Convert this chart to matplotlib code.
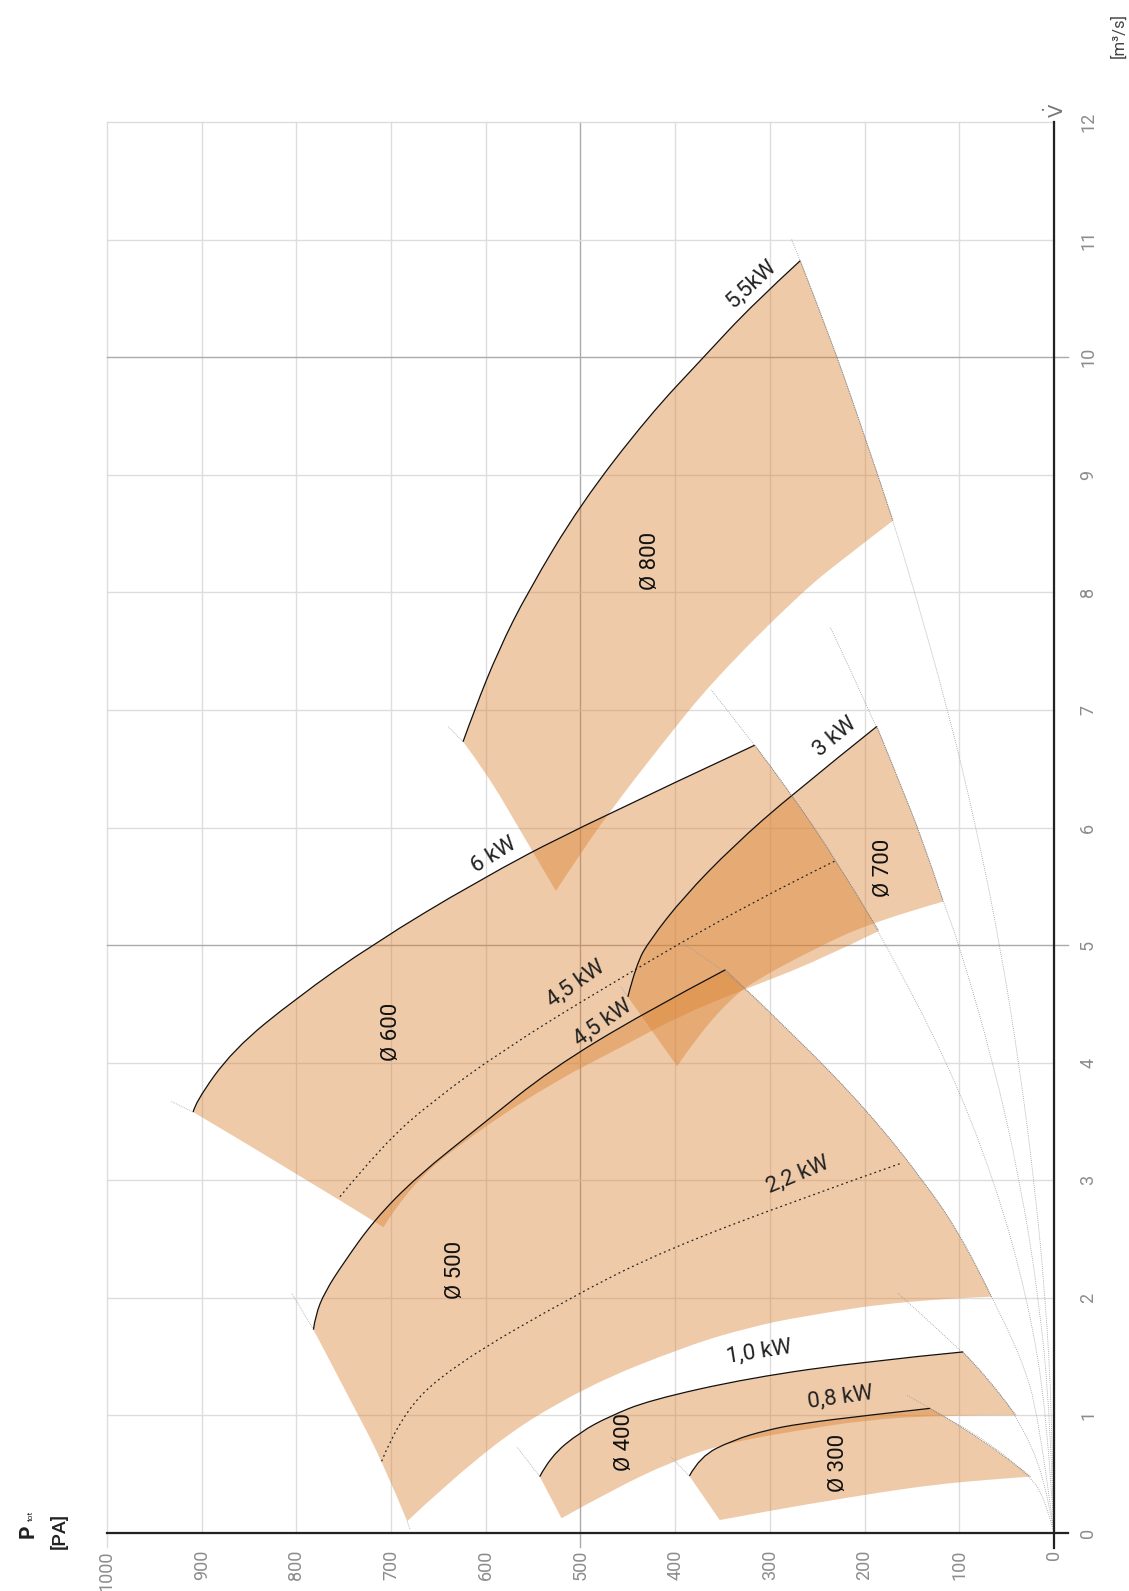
import numpy as np
import matplotlib.pyplot as plt
from matplotlib.path import Path
from matplotlib.patches import PathPatch

plt.rcParams['font.family'] = ['Roboto', 'DejaVu Sans']

# Fan map: flow V [m3/s] (q) and total pressure [Pa] (p)

# Ø 800
d800_top_q = [6.73, 7.0, 7.5, 8.0, 8.75, 9.5, 10.0, 10.45, 10.82]
d800_top_p = [624, 612, 587, 556, 500, 428, 370, 318, 268]
d800_right_q = [10.82, 10.2, 9.5, 8.61]
d800_right_p = [268, 238, 207, 170]
d800_bot_q = [5.46, 5.78, 6.18, 6.7, 7.25, 7.99, 8.29, 8.61]
d800_bot_p = [526, 500, 465, 415, 360, 268, 222, 170]
d800_left_q = [5.46, 5.98, 6.46, 6.73]
d800_left_p = [526, 564, 599, 624]

# Ø 700
d700_top_q = [4.56, 4.84, 5.04, 5.41, 5.84, 6.28, 6.86]
d700_top_p = [450, 441, 427, 391, 339, 277, 187]
d700_right_q = [6.86, 6.4, 5.9, 5.37]
d700_right_p = [187, 164, 139, 117]
d700_bot_q = [3.97, 4.25, 4.56, 4.70, 4.96, 5.20, 5.37]
d700_bot_p = [398, 374, 339, 315, 255, 191, 117]
d700_left_q = [3.97, 4.56]
d700_left_p = [398, 450]

# Ø 600
d600_top_q = [3.58, 3.66, 4.11, 4.55, 5.01, 5.54, 6.01, 6.70]
d600_top_p = [909, 907, 867, 800, 719, 610, 500, 316]
d600_right_q = [6.70, 6.28, 5.72, 5.12]
d600_right_p = [316, 277, 230, 185]
d600_bot_q = [2.60, 2.97, 3.45, 3.85, 4.11, 4.40, 4.63, 4.86, 5.12]
d600_bot_p = [708, 680, 603, 525, 462, 395, 325, 251, 185]
d600_left_q = [2.60, 3.06, 3.58]
d600_left_p = [708, 800, 909]

# Ø 500
d500_top_q = [1.73, 1.85, 2.05, 2.3, 2.66, 3.03, 3.48, 3.94, 4.42, 4.79]
d500_top_p = [782, 780, 770, 750, 718, 673, 603, 532, 434, 347]
d500_right_q = [4.79, 4.2, 3.6, 3.0, 2.5, 2.01]
d500_right_p = [347, 270, 198, 138, 96, 66]
d500_bot_q = [0.10, 0.71, 1.24, 1.60, 1.75, 1.84, 1.98, 2.01]
d500_bot_p = [683, 603, 497, 385, 321, 268, 155, 66]
d500_left_q = [0.10, 0.59, 1.13, 1.73]
d500_left_p = [683, 708, 743, 782]

# Ø 400
d400_top_q = [0.48, 0.65, 0.86, 0.99, 1.13, 1.32, 1.46, 1.54]
d400_top_p = [543, 532, 500, 470, 427, 321, 198, 96]
d400_right_q = [1.54, 1.3, 1.0]
d400_right_p = [96, 68, 40]
d400_bot_q = [0.125, 0.37, 0.62, 0.763, 0.876, 0.96, 1.0, 1.0]
d400_bot_p = [520, 466, 400, 346, 268, 198, 127, 40]
d400_left_q = [0.125, 0.48]
d400_left_p = [520, 543]

# Ø 300
d300_top_q = [0.485, 0.65, 0.79, 0.876, 0.93, 1.0, 1.06]
d300_top_p = [385, 374, 339, 303, 268, 198, 131]
d300_right_q = [1.06, 0.79, 0.48]
d300_right_p = [131, 72, 25]
d300_bot_q = [0.11, 0.21, 0.28, 0.35, 0.41, 0.45, 0.48]
d300_bot_p = [353, 286, 233, 180, 127, 75, 25]
d300_left_q = [0.11, 0.485]
d300_left_p = [353, 385]

# dotted motor power curves
kw45_q = [2.86, 3.31, 3.68, 4.10, 4.62, 5.37, 5.72]
kw45_p = [754, 708, 655, 583, 479, 319, 230]
kw22_q = [0.61, 0.99, 1.41, 2.05, 2.41, 2.83, 3.14]
kw22_p = [710, 691, 638, 500, 409, 272, 163]

# system lines from the origin
sys_lines = [
    ([0, 1, 2, 3, 4, 5, 6, 7, 8, 8.61, 9.5, 10.2, 10.82, 11.0],
     [0, 2, 9, 21, 37, 57, 82, 112, 147, 170, 207, 238, 268, 277]),
    ([0, 1, 2, 3, 4, 5, 5.37, 5.9, 6.4, 6.86, 7.7],
     [0, 4, 16, 36, 64, 100, 117, 139, 164, 187, 236]),
    ([0, 1, 2, 3, 4, 5.12, 5.72, 6.28, 6.70, 7.17],
     [0, 7, 28, 63, 112, 185, 230, 277, 316, 362]),
    ([0, 1, 1.5, 2.01, 2.5, 3.0, 3.6, 4.2, 4.79, 5.01],
     [0, 16, 35, 66, 96, 138, 198, 270, 347, 391]),
    ([0, 0.5, 1.0, 1.3, 1.54, 2.04],
     [0, 10, 40, 68, 96, 165]),
    ([0, 0.3, 0.48, 0.79, 1.06, 1.175],
     [0, 10, 25, 72, 131, 156]),
]

# short grey continuations of the left edges
ext_q = [(6.73, 6.86), (3.58, 3.67), (1.73, 2.04), (0.10, 0.03), (0.48, 0.73), (0.485, 0.65), (4.56, 4.65)]
ext_p = [(624, 640), (909, 932), (782, 805), (683, 680), (543, 567), (385, 405), (450, 458)]

fans = [
    (d800_top_q, d800_top_p, d800_right_q, d800_right_p, d800_bot_q, d800_bot_p, d800_left_q, d800_left_p),
    (d700_top_q, d700_top_p, d700_right_q, d700_right_p, d700_bot_q, d700_bot_p, d700_left_q, d700_left_p),
    (d600_top_q, d600_top_p, d600_right_q, d600_right_p, d600_bot_q, d600_bot_p, d600_left_q, d600_left_p),
    (d500_top_q, d500_top_p, d500_right_q, d500_right_p, d500_bot_q, d500_bot_p, d500_left_q, d500_left_p),
    (d400_top_q, d400_top_p, d400_right_q, d400_right_p, d400_bot_q, d400_bot_p, d400_left_q, d400_left_p),
    (d300_top_q, d300_top_p, d300_right_q, d300_right_p, d300_bot_q, d300_bot_p, d300_left_q, d300_left_p),
]

diam_labels = ["Ø 800", "Ø 700", "Ø 600", "Ø 500", "Ø 400", "Ø 300"]
diam_q = [8.27, 5.66, 4.26, 2.24, 0.77, 0.60]
diam_p = [426, 180, 700, 632, 454, 228]

kw_labels = ["5,5kW", "6 kW", "3 kW", "4,5 kW", "4,5 kW", "2,2 kW", "1,0 kW", "0,8 kW"]
kw_q = [10.62, 5.76, 6.77, 4.67, 4.34, 3.05, 1.54, 1.15]
kw_p = [320, 591, 231, 505, 477, 271, 311, 226]
kw_rot = [43, 32, 40, 35, 35, 23, 9, 8]

p_ticks = list(range(0, 1001, 100))
q_ticks = list(range(0, 13))


def smooth(q, p):
    # quadratic spline run through the read points (path vertices after the start point)
    pts = list(zip(p, q))
    if len(pts) < 3:
        return pts[1:], [Path.LINETO] * (len(pts) - 1)
    verts, codes = [], []
    for i in range(1, len(pts) - 2):
        mid = ((pts[i][0] + pts[i + 1][0]) / 2, (pts[i][1] + pts[i + 1][1]) / 2)
        verts += [pts[i], mid]
        codes += [Path.CURVE3, Path.CURVE3]
    verts += [pts[-2], pts[-1]]
    codes += [Path.CURVE3, Path.CURVE3]
    return verts, codes


def curve(q, p):
    verts, codes = smooth(q, p)
    return Path([(p[0], q[0])] + verts, [Path.MOVETO] + codes)


fig = plt.figure(figsize=(11.29, 15.91), dpi=100)
ax = fig.add_axes([107 / 1129, 58 / 1591, 947 / 1129, 1411 / 1591])
ax.set_xlim(1000, 0)
ax.set_ylim(0, 12)
ax.axis('off')

# Grid
for p in p_ticks:
    major = p in (500, 1000)
    ax.plot([p, p], [-0.12 if major else 0, 12], color='#aaaaaa' if p == 500 else '#dddddd',
            lw=1.0, zorder=0, clip_on=False)
for q in q_ticks:
    major = q in (5, 10)
    ax.plot([1000, -15 if major else 0], [q, q], color='#aaaaaa' if major else '#dddddd',
            lw=1.0, zorder=0, clip_on=False)

# Axis lines
ax.plot([1000, -15], [0, 0], color='#222222', lw=1.6, clip_on=False, zorder=5)
ax.plot([0, 0], [12, -0.13], color='#222222', lw=1.6, clip_on=False, zorder=5)

# System lines
for sq, sp in sys_lines:
    ax.add_patch(PathPatch(curve(sq, sp), fill=False, edgecolor='#999999', lw=0.6,
                           ls=(0, (1, 1.5)), zorder=2))

fill_col = '#db8130'
for tq, tp, rq, rp, bq, bp, lq, lp in fans:
    verts, codes = [(tp[0], tq[0])], [Path.MOVETO]
    for eq, ep in [(tq, tp), (rq, rp), (bq[::-1], bp[::-1]), (lq, lp)]:
        v, c = smooth(eq, ep)
        verts += v
        codes += c
    verts.append((tp[0], tq[0]))
    codes.append(Path.CLOSEPOLY)
    ax.add_patch(PathPatch(Path(verts, codes), facecolor=fill_col, alpha=0.42, lw=0, zorder=1))
    ax.add_patch(PathPatch(curve(tq, tp), fill=False, edgecolor='#111111', lw=0.9, zorder=3))
    ax.add_patch(PathPatch(curve(rq, rp), fill=False, edgecolor='#777777', lw=0.6,
                           ls=(0, (1, 1.2)), zorder=3))

for eq, ep in zip(ext_q, ext_p):
    ax.plot(ep, eq, color='#aaaaaa', lw=0.6, ls=(0, (1, 1.2)), zorder=2)

for kq, kp in [(kw45_q, kw45_p), (kw22_q, kw22_p)]:
    ax.add_patch(PathPatch(curve(kq, kp), fill=False, edgecolor='#222222', lw=0.9,
                           ls=(0, (1.5, 2.5)), zorder=3))

# Labels
for txt, q, p in zip(diam_labels, diam_q, diam_p):
    ax.text(p, q, txt, rotation=90, ha='center', va='center', fontsize=16, color='#111111', zorder=6)
for txt, q, p, r in zip(kw_labels, kw_q, kw_p, kw_rot):
    ax.text(p, q, txt, rotation=r, ha='center', va='center', fontsize=16, color='#222222',
            rotation_mode='anchor', zorder=6)

tick_col = '#8c8c8c'
for p in p_ticks:
    ax.text(p, -0.145, str(p), rotation=90, ha='center', va='top', fontsize=13,
            color=tick_col, clip_on=False)
for q in q_ticks:
    ax.text(-36, q, str(q), rotation=90, ha='center', va='center', fontsize=13,
            color=tick_col, clip_on=False)

ax.text(-2, 12.1, r'$\dot{\mathsf{V}}$', rotation=90, ha='center', va='center', fontsize=14,
        color='#777777', clip_on=False)
fig.text(1118 / 1129, 1 - 35 / 1591, '[m³/s]', rotation=90, ha='center', va='center',
         fontsize=12, color='#444444')
fig.text(28 / 1129, 1 - 1531 / 1591, 'P', rotation=90, ha='center', va='center',
         fontsize=15, fontweight='bold', color='#222222')
fig.text(31 / 1129, 1 - 1516 / 1591, 'tot', rotation=90, ha='center', va='center',
         fontsize=6, color='#222222')
fig.text(60 / 1129, 1 - 1531 / 1591, '[PA]', rotation=90, ha='center', va='center',
         fontsize=14, fontweight='medium', color='#222222')

fig.savefig('out.png', dpi=100)
